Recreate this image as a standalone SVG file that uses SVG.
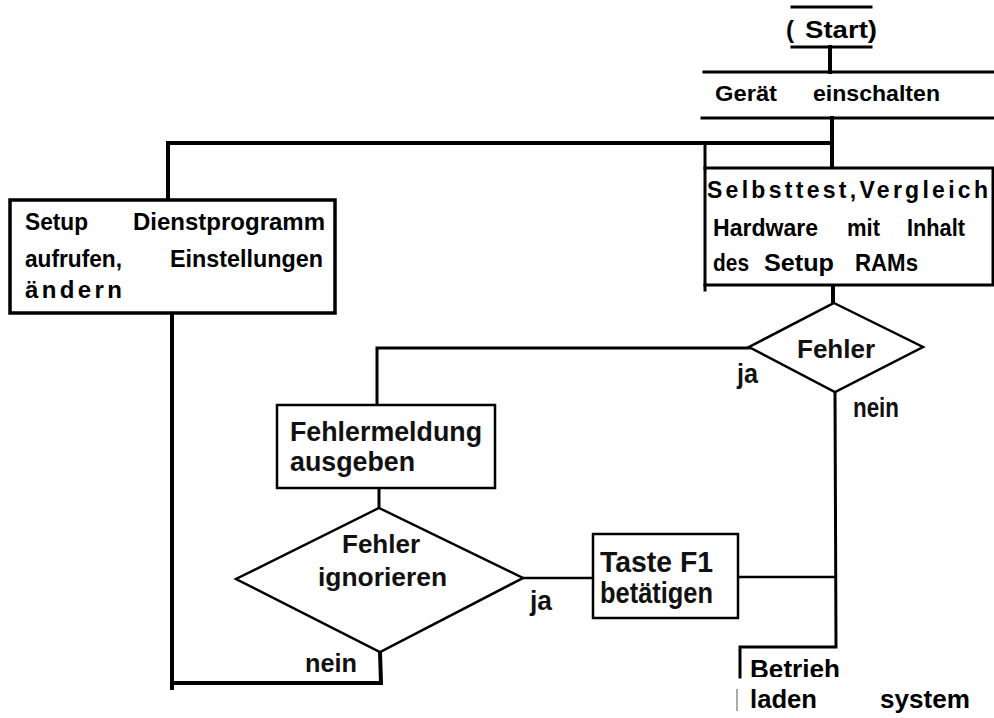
<svg xmlns="http://www.w3.org/2000/svg" width="994" height="718" viewBox="0 0 994 718">
<style>
.t{font-family:"Liberation Sans",Arial,sans-serif;font-weight:bold;fill:#000}
.n{font-family:"Liberation Sans",Arial,sans-serif;font-weight:bold;fill:#111}
.ln{stroke:#000;fill:none;stroke-linecap:square}
.box{fill:#fff;stroke:#000}
</style>
<defs>
<clipPath id="clipB"><rect x="740" y="640" width="110" height="37"/></clipPath>
</defs>
<rect width="994" height="718" fill="#fff"/>
<g id="connectors" class="ln">
<line x1="830" y1="47" x2="830" y2="72" stroke-width="4"/>
<line x1="832" y1="118" x2="832" y2="168" stroke-width="4"/>
<polyline points="832,143 168,143 168,200" stroke-width="4"/>
<line x1="705" y1="143" x2="705" y2="168" stroke-width="3"/>
<line x1="833" y1="285" x2="833" y2="303" stroke-width="4"/>
<polyline points="749,348 377,348 377,405" stroke-width="3"/>
<line x1="379" y1="488" x2="379" y2="508" stroke-width="3"/>
<line x1="523" y1="578" x2="593" y2="578" stroke-width="2.5"/>
<line x1="738" y1="577" x2="835" y2="577" stroke-width="2.5"/>
<polyline points="835,392 836,647 740,647 740,677" stroke-width="3"/>
<polyline points="380,652 381,683 172,683" stroke-width="4"/>
<line x1="172" y1="313" x2="172" y2="688" stroke-width="4"/>
<line x1="737" y1="690" x2="737" y2="710" stroke="#aaa" stroke-width="2"/>
</g>
<g id="start">
<line class="ln" x1="792" y1="7" x2="871" y2="7" stroke-width="3"/>
<line class="ln" x1="792" y1="47" x2="871" y2="47" stroke-width="3"/>
<text class="t" x="786" y="38" font-size="24">(</text>
<text class="t" x="805" y="38" font-size="24" textLength="72" lengthAdjust="spacingAndGlyphs">Start)</text>
</g>
<g id="geraet">
<line class="ln" x1="704" y1="72" x2="994" y2="72" stroke-width="3"/>
<line class="ln" x1="702" y1="118" x2="994" y2="118" stroke-width="3"/>
<text class="t" x="715" y="101" font-size="22" textLength="62" lengthAdjust="spacingAndGlyphs">Gerät</text>
<text class="t" x="813" y="101" font-size="22" textLength="127" lengthAdjust="spacingAndGlyphs">einschalten</text>
</g>
<g id="setup">
<rect class="box" x="10" y="200" width="325" height="113" stroke-width="3.5"/>
<text class="t" font-size="24">
<tspan x="25" y="230" textLength="63" lengthAdjust="spacingAndGlyphs">Setup</tspan>
<tspan x="133" y="230" textLength="192" lengthAdjust="spacingAndGlyphs">Dienstprogramm</tspan>
<tspan x="25" y="267" textLength="97" lengthAdjust="spacingAndGlyphs">aufrufen,</tspan>
<tspan x="170" y="267" textLength="153" lengthAdjust="spacingAndGlyphs">Einstellungen</tspan>
<tspan x="25" y="298" textLength="97" lengthAdjust="spacing">ändern</tspan>
</text>
</g>
<g id="selbsttest">
<rect class="box" x="705" y="168" width="288" height="117" stroke-width="3"/>
<line class="ln" x1="705" y1="285" x2="705" y2="290" stroke-width="3"/>
<text class="t" font-size="23">
<tspan x="707" y="198" textLength="281" lengthAdjust="spacing">Selbsttest,Vergleich</tspan>
<tspan x="713" y="236" textLength="105" lengthAdjust="spacingAndGlyphs">Hardware</tspan>
<tspan x="847" y="236" textLength="33" lengthAdjust="spacingAndGlyphs">mit</tspan>
<tspan x="907" y="236" textLength="58" lengthAdjust="spacingAndGlyphs">Inhalt</tspan>
<tspan x="713" y="271" textLength="36" lengthAdjust="spacingAndGlyphs">des</tspan>
<tspan x="764" y="271" textLength="70" lengthAdjust="spacingAndGlyphs">Setup</tspan>
<tspan x="855" y="271" textLength="63" lengthAdjust="spacingAndGlyphs">RAMs</tspan>
</text>
</g>
<g id="fehler">
<polygon class="box" points="834,303 923,347 835,392 749,347" stroke-width="2.5"/>
<text class="n" x="797" y="358" font-size="25" textLength="78" lengthAdjust="spacingAndGlyphs">Fehler</text>
<text class="n" x="737" y="383" font-size="27" textLength="21" lengthAdjust="spacingAndGlyphs">ja</text>
<text class="n" x="853" y="417" font-size="28" textLength="46" lengthAdjust="spacingAndGlyphs">nein</text>
</g>
<g id="fehlermeldung">
<rect class="box" x="277" y="405" width="218" height="83" stroke-width="2.5"/>
<text class="n" font-size="28">
<tspan x="290" y="441" textLength="192" lengthAdjust="spacingAndGlyphs">Fehlermeldung</tspan>
<tspan x="290" y="471" textLength="125" lengthAdjust="spacingAndGlyphs">ausgeben</tspan>
</text>
</g>
<g id="ignorieren">
<polygon class="box" points="379,508 523,578 380,652 236,579" stroke-width="2.5"/>
<text class="n" x="342" y="553" font-size="26" textLength="78" lengthAdjust="spacingAndGlyphs">Fehler</text>
<text class="n" x="318" y="586" font-size="26" textLength="129" lengthAdjust="spacingAndGlyphs">ignorieren</text>
<text class="n" x="530" y="610" font-size="27" textLength="22" lengthAdjust="spacingAndGlyphs">ja</text>
<text class="n" x="305" y="672" font-size="26" textLength="52" lengthAdjust="spacingAndGlyphs">nein</text>
</g>
<g id="taste">
<rect class="box" x="593" y="534" width="145" height="84" stroke-width="2.5"/>
<text class="n" font-size="29">
<tspan x="600" y="572" textLength="113" lengthAdjust="spacingAndGlyphs">Taste F1</tspan>
<tspan x="600" y="603" textLength="113" lengthAdjust="spacingAndGlyphs">betätigen</tspan>
</text>
</g>
<g id="betrieb">
<text class="t" x="750" y="678" font-size="26" textLength="90" lengthAdjust="spacingAndGlyphs" clip-path="url(#clipB)">Betrieh</text>
<text class="t" x="750" y="708" font-size="26" textLength="67" lengthAdjust="spacingAndGlyphs">laden</text>
<text class="t" x="880" y="708" font-size="26" textLength="90" lengthAdjust="spacingAndGlyphs">system</text>
</g>
</svg>
